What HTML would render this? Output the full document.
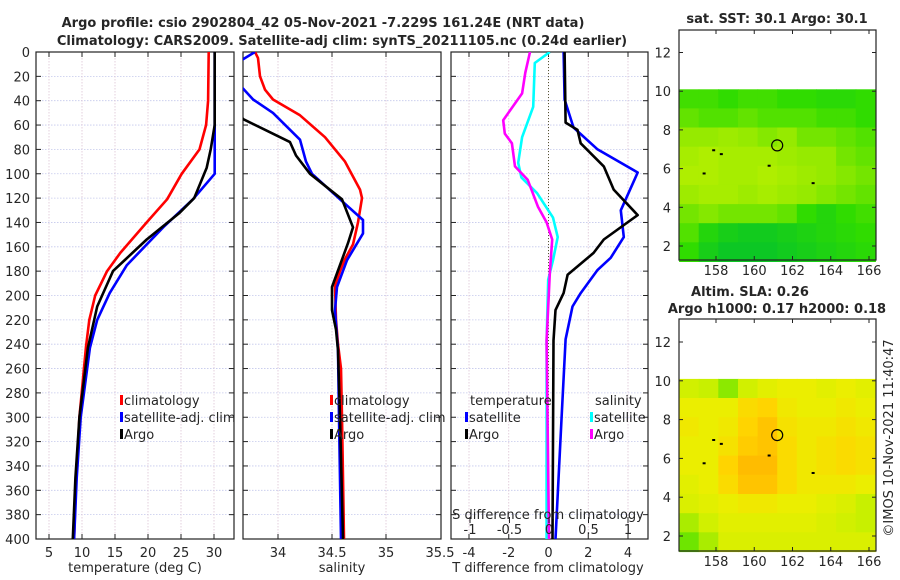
<!DOCTYPE html>
<html><head><meta charset="utf-8">
<style>
html,body{margin:0;padding:0;background:#fff;}
svg{display:block;font-family:"DejaVu Sans","Liberation Sans",sans-serif;}
</style></head>
<body>
<svg id="fig" width="900" height="580" viewBox="0 0 900 580" xmlns="http://www.w3.org/2000/svg"></svg>
<script>
// ---------- DATA ----------
const depthTicks = [0,20,40,60,80,100,120,140,160,180,200,220,240,260,280,300,320,340,360,380,400];
const tempTicks = [5,10,15,20,25,30];
const salTicks = [34,34.5,35,35.5];
const dTTicks = [-4,-2,0,2,4];
const dSTicks = [-1,-0.5,0,0.5,1];
const dSTickLabels = ["-1","-0.5","0","0.5","1"];
const lonTicks = [158,160,162,164,166];
const latTicks = [2,4,6,8,10,12];

const tClimDepth = [0,40,60,80,100,121,140,165,180,200,220,242,300,350,400];
const tClim = [29.2,29.1,28.8,27.8,25.1,22.9,19.8,15.8,13.8,12.0,11.1,10.6,9.6,9.1,8.8];
const tArgoDepth = [0,60,80,95,120,132,154,180,209,243,300,350,400];
const tArgo = [30.1,30.1,29.5,28.9,27.0,24.8,19.8,14.7,12.3,10.9,9.6,9.0,8.6];
const tSatDepth = [0,100,121,144,175,198,220,243,300,350,400];
const tSat = [30.1,30.1,26.8,22.3,16.8,14.2,12.3,11.2,9.8,9.2,8.8];

const sClimDepth = [0,5,20,31,39,52,70,90,113,120,140,158,170,180,192,220,240,260,300,400];
const sClim = [33.787,33.815,33.833,33.880,33.954,34.204,34.435,34.620,34.759,34.778,34.741,34.694,34.620,34.574,34.528,34.537,34.556,34.583,34.593,34.611];
const sSatDepth = [0,6,18,30,39,50,72,90,100,121,138,149,171,193,212,245,300,400];
const sSat = [33.787,33.676,33.509,33.676,33.769,33.954,34.204,34.259,34.315,34.574,34.787,34.787,34.639,34.546,34.528,34.556,34.565,34.583];
const sArgoDepth = [0,55,74,85,100,121,144,157,193,212,228,245,300,400];
const sArgo = [33.278,33.676,34.111,34.167,34.296,34.593,34.694,34.648,34.5,34.5,34.537,34.556,34.574,34.602];

const dTSatDepth = [0,39,62,80,99,130,152,169,179,198,209,236,300,400];
const dTSat = [0.76,0.81,1.26,2.47,4.49,3.64,3.79,3.13,2.47,1.62,1.21,0.86,0.66,0.35];
const dTArgoDepth = [0,58,64,75,94,113,134,154,165,183,198,212,237,400];
const dTArgo = [0.81,0.86,1.46,1.62,2.78,3.28,4.49,2.78,2.27,0.96,0.76,0.35,0.25,0.2];
const dSSatDepth = [0,9,45,70,91,103,116,136,152,171,187,237,400];
const dSSat = [0.01,-0.18,-0.2,-0.34,-0.39,-0.35,-0.15,0.05,0.11,0.05,-0.01,-0.03,-0.03];
const dSArgoDepth = [0,17,34,56,67,75,94,105,127,140,154,182,237,400];
const dSArgo = [-0.24,-0.3,-0.34,-0.58,-0.56,-0.47,-0.43,-0.27,-0.14,-0.03,0.04,0.01,-0.03,0];

const sstGrid = [
[0.45,0.45,0.4,0.45,0.45,0.4,0.4,0.35,0.35,0.4],
[0.55,0.5,0.5,0.55,0.5,0.5,0.5,0.45,0.45,0.4],
[0.7,0.7,0.75,0.7,0.65,0.7,0.6,0.6,0.55,0.5],
[0.8,0.85,0.8,0.8,0.8,0.75,0.7,0.7,0.6,0.55],
[0.85,0.85,0.8,0.8,0.85,0.8,0.75,0.7,0.65,0.6],
[0.75,0.8,0.8,0.75,0.8,0.75,0.7,0.65,0.6,0.55],
[0.6,0.65,0.6,0.6,0.6,0.55,0.4,0.3,0.4,0.45],
[0.5,0.3,0.2,0.15,0.15,0.2,0.25,0.3,0.35,0.4],
[0.4,0.2,0.1,0.1,0.1,0.15,0.2,0.25,0.3,0.35]];
const slaGrid = [
[0.45,0.4,0.2,0.45,0.55,0.6,0.6,0.55,0.6,0.55],
[0.6,0.6,0.6,0.75,0.8,0.65,0.6,0.6,0.65,0.6],
[0.65,0.6,0.65,0.8,0.9,0.7,0.65,0.65,0.7,0.65],
[0.6,0.6,0.7,0.85,0.9,0.75,0.65,0.7,0.75,0.7],
[0.6,0.6,0.8,0.95,0.95,0.75,0.65,0.7,0.75,0.7],
[0.55,0.6,0.75,0.9,0.9,0.75,0.65,0.65,0.65,0.6],
[0.5,0.55,0.6,0.65,0.65,0.6,0.6,0.55,0.5,0.4],
[0.3,0.45,0.55,0.55,0.55,0.55,0.55,0.5,0.45,0.4],
[0.1,0.3,0.5,0.5,0.5,0.5,0.5,0.5,0.5,0.5]];
const floatLon = [161.2];
const floatLat = [7.2];

// ---------- HELPERS ----------
const NS = "http://www.w3.org/2000/svg";
const svg = document.getElementById('fig');
function mk(tag, attrs, parent){
  const e = document.createElementNS(NS, tag);
  for (const k in attrs) e.setAttribute(k, attrs[k]);
  (parent||svg).appendChild(e);
  return e;
}
function txt(s, x, y, anchor, size, weight, parent){
  const t = mk('text', {x:x, y:y, 'text-anchor':anchor||'middle', 'font-size':size||13, 'font-weight':weight||'normal', fill:'#262626'}, parent);
  t.textContent = s;
  return t;
}
const TOP = 52, BOT = 539;
function yD(d){ return TOP + d*(BOT-TOP)/400; }
function lin(v0,v1,p0,p1){ return v => p0 + (v-v0)*(p1-p0)/(v1-v0); }

const panels = [
  {name:'temperature-panel', x0:36, x1:234, sc:lin(5,30,49,214), ticks:tempTicks, labels:tempTicks.map(String)},
  {name:'salinity-panel', x0:243, x1:441, sc:lin(34,35,278,386), ticks:salTicks, labels:salTicks.map(String)},
  {name:'difference-panel', x0:451, x1:648, sc:lin(-4,4,469,628), ticks:dTTicks, labels:dTTicks.map(String)}
];
const dSsc = lin(-1,1,470,628);

panels.forEach((p,i)=>{
  const g = mk('g', {});
  
  
  const cp = mk('clipPath', {id:'clip'+i}, g);
  mk('rect', {x:p.x0, y:TOP, width:p.x1-p.x0, height:BOT-TOP}, cp);
  depthTicks.forEach(d=>{
    const l = mk('line',{x1:p.x0,x2:p.x1,y1:yD(d),y2:yD(d),stroke:'#c4c8ec','stroke-width':0.8,'stroke-dasharray':'1.5 1.5'},g);
    
    
    mk('line',{x1:p.x0,x2:p.x0+5,y1:yD(d),y2:yD(d),stroke:'#222'},g);
    mk('line',{x1:p.x1-5,x2:p.x1,y1:yD(d),y2:yD(d),stroke:'#222'},g);
    if(i===0){
      const lb = txt(String(d), 30, yD(d)+5, 'end', 13, 'normal', g);
      
      
    }
  });
  p.ticks.forEach((v,k)=>{
    const x = p.sc(v);
    if (x > p.x0+1 && x < p.x1-1) {
      mk('line',{x1:x,x2:x,y1:TOP,y2:BOT,stroke:'#dcc4d4','stroke-width':0.8,'stroke-dasharray':'1.5 1.5'},g);
      mk('line',{x1:x,x2:x,y1:BOT-5,y2:BOT,stroke:'#222'},g);
      mk('line',{x1:x,x2:x,y1:TOP,y2:TOP+5,stroke:'#222'},g);
    }
    const lb = txt(p.labels[k], x, 557, 'middle', 13, 'normal', g);
    
    
  });
  const fr = mk('rect',{x:p.x0,y:TOP,width:p.x1-p.x0,height:BOT-TOP,fill:'none',stroke:'#222','stroke-width':1.2},g);
  
  
  p.g = g;
});

function drawLine(g, clipId, depths, vals, sc, color, name){
  const pts = depths.map((d,k)=> sc(vals[k]).toFixed(1)+','+yD(d).toFixed(1)).join(' ');
  const l = mk('polyline',{points:pts,fill:'none',stroke:color,'stroke-width':2.6,'stroke-linejoin':'round','clip-path':'url(#'+clipId+')'},g);
  
  
}
drawLine(panels[0].g,'clip0',tClimDepth,tClim,panels[0].sc,'#ff0000','temp-climatology-line');
drawLine(panels[0].g,'clip0',tSatDepth,tSat,panels[0].sc,'#0000ff','temp-satellite-line');
drawLine(panels[0].g,'clip0',tArgoDepth,tArgo,panels[0].sc,'#000000','temp-argo-line');
drawLine(panels[1].g,'clip1',sClimDepth,sClim,panels[1].sc,'#ff0000','sal-climatology-line');
drawLine(panels[1].g,'clip1',sSatDepth,sSat,panels[1].sc,'#0000ff','sal-satellite-line');
drawLine(panels[1].g,'clip1',sArgoDepth,sArgo,panels[1].sc,'#000000','sal-argo-line');
const zl = mk('line',{x1:panels[2].sc(0),x2:panels[2].sc(0),y1:TOP,y2:BOT,stroke:'#555533','stroke-width':1,'stroke-dasharray':'1 2'},panels[2].g);


drawLine(panels[2].g,'clip2',dTSatDepth,dTSat,panels[2].sc,'#0000ff','dT-satellite-line');
drawLine(panels[2].g,'clip2',dTArgoDepth,dTArgo,panels[2].sc,'#000000','dT-argo-line');
drawLine(panels[2].g,'clip2',dSSatDepth,dSSat,dSsc,'#00ffff','dS-satellite-line');
drawLine(panels[2].g,'clip2',dSArgoDepth,dSArgo,dSsc,'#ff00ff','dS-argo-line');
dSTicks.forEach((v,k)=>{
  const x = dSsc(v);
  mk('line',{x1:x,x2:x,y1:BOT-22,y2:BOT-16,stroke:'#222'},panels[2].g);
  const lb = txt(dSTickLabels[k], x, 534, 'middle', 13, 'normal', panels[2].g);
  
  
});

function legend(x, y, color, label, name){
  const g = mk('g',{});
  
  
  mk('rect',{x:x,y:y-10,width:3,height:10,fill:color},g);
  txt(label, x+4, y, 'start', 13, 'normal', g);
}
legend(120,405,'#ff0000','climatology','legend-climatology');
legend(120,422,'#0000ff','satellite-adj. clim','legend-satellite');
legend(120,439,'#000000','Argo','legend-argo');
legend(330,405,'#ff0000','climatology','legend-climatology-2');
legend(330,422,'#0000ff','satellite-adj. clim','legend-satellite-2');
legend(330,439,'#000000','Argo','legend-argo-2');
const th = txt('temperature',470,405,'start',13,'normal');


legend(465,422,'#0000ff','satellite','legend-t-satellite');
legend(465,439,'#000000','Argo','legend-t-argo');
const sh = txt('salinity',595,405,'start',13,'normal');


legend(590,422,'#00ffff','satellite','legend-s-satellite');
legend(590,439,'#ff00ff','Argo','legend-s-argo');

function label(s,x,y,size,weight,name){
  const t = txt(s,x,y,'middle',size,weight);
  
  
  return t;
}
label('temperature (deg C)',135,572,13,'normal','temperature-axis-title');
label('salinity',342,572,13,'normal','salinity-axis-title');
label('T difference from climatology',548,572,13,'normal','dT-axis-title');
label('S difference from climatology',548,519,13,'normal','dS-axis-title');
label('Argo profile: csio 2902804_42 05-Nov-2021 -7.229S 161.24E (NRT data)',323,27,13,'bold','main-title');
label('Climatology: CARS2009. Satellite-adj clim: synTS_20211105.nc (0.24d earlier)',342,45,13,'bold','subtitle');

function sstColor(v){
  const stops=[[0,[0,192,48]],[0.4,[48,220,0]],[0.7,[150,234,0]],[1,[200,242,0]]];
  return interp(stops,v);
}
function slaColor(v){
  const stops=[[0,[80,225,0]],[0.4,[200,240,0]],[0.6,[235,238,0]],[0.8,[255,212,0]],[1,[255,180,0]]];
  return interp(stops,v);
}
function interp(stops,v){
  for(let i=1;i<stops.length;i++){
    if(v<=stops[i][0]){
      const a=stops[i-1],b=stops[i],t=(v-a[0])/(b[0]-a[0]);
      const c=a[1].map((q,k)=>Math.round(q+(b[1][k]-q)*t));
      return 'rgb('+c.join(',')+')';
    }
  }
  return 'rgb('+stops[stops.length-1][1].join(',')+')';
}
function drawMap(opts){
  const {name, y0, y1, lat12, lat2, grid, cmap} = opts;
  const x0=679, x1=876;
  const xL = lin(158,166,716,869);
  const yL = lin(12,2,lat12,lat2);
  const g = mk('g',{});
  
  
  const rows = grid.length, cols = grid[0].length;
  const lonA=156.07, lonB=166.33, latA=10.1, latB=1.2;
  for(let r=0;r<rows;r++) for(let c=0;c<cols;c++){
    const xa = xL(lonA+(lonB-lonA)*c/cols), xb = xL(lonA+(lonB-lonA)*(c+1)/cols);
    const ya = yL(latA-(latA-latB)*r/rows), yb = yL(latA-(latA-latB)*(r+1)/rows);
    const cell = mk('rect',{x:xa.toFixed(1),y:ya.toFixed(1),width:(xb-xa+0.6).toFixed(1),height:(yb-ya+0.6).toFixed(1),fill:cmap(grid[r][c])},g);
    
    
  }
  [[157.8,7.0],[158.2,6.8],[157.3,5.8],[160.7,6.2],[163,5.3]].forEach(p=>{
    mk('rect',{x:xL(p[0]),y:yL(p[1]),width:3,height:2,fill:'#000'},g);
  });
  floatLon.forEach((lo,k)=>{
    const c = mk('circle',{cx:xL(lo),cy:yL(floatLat[k]),r:5.5,fill:'none',stroke:'#000','stroke-width':1.2},g);
    
    
  });
  lonTicks.forEach(v=>{
    const x=xL(v);
    mk('line',{x1:x,x2:x,y1:y1-4,y2:y1,stroke:'#222'},g);
    mk('line',{x1:x,x2:x,y1:y0,y2:y0+4,stroke:'#222'},g);
    const lb=txt(String(v),x,y1+15,'middle',13,'normal',g);
    
    
  });
  latTicks.forEach(v=>{
    const y=yL(v);
    mk('line',{x1:x0,x2:x0+4,y1:y,y2:y,stroke:'#222'},g);
    mk('line',{x1:x1-4,x2:x1,y1:y,y2:y,stroke:'#222'},g);
    const lb=txt(String(v),671,y+5,'end',13,'normal',g);
    
    
  });
  mk('rect',{x:x0,y:y0,width:x1-x0,height:y1-y0,fill:'none',stroke:'#222','stroke-width':1.2},g);
}
drawMap({name:'sst-map', y0:30, y1:260, lat12:52.5, lat2:246, grid:sstGrid, cmap:sstColor});
drawMap({name:'sla-map', y0:319, y1:551, lat12:342, lat2:536, grid:slaGrid, cmap:slaColor});
label('sat. SST: 30.1 Argo: 30.1',777,23,13,'bold','sst-map-title');
label('Altim. SLA: 0.26',750,296,13,'bold','sla-map-title');
label('Argo h1000: 0.17 h2000: 0.18',777,313,13,'bold','sla-map-subtitle');
const cpy = txt('©IMOS 10-Nov-2021 11:40:47',0,0,'middle',13,'normal');
cpy.setAttribute('transform','translate(893,438) rotate(-90)');


</script>
</body></html>
